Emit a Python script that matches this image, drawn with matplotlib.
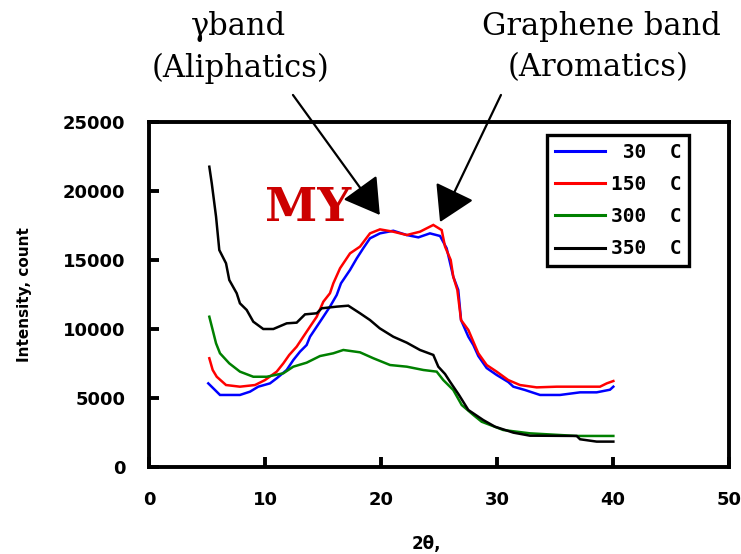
import matplotlib
matplotlib.use("Agg")
import matplotlib.pyplot as plt

# ---------------- data ----------------
x_30 = [5.11, 5.69, 6.12, 7.84, 8.71, 9.42, 10.43, 11.01, 11.87, 12.44, 13.02, 13.59, 13.88,
        14.46, 15.03, 15.60, 16.18, 16.55, 17.33, 17.91, 18.47, 19.05, 19.91, 21.06, 22.22,
        23.22, 24.22, 25.09, 25.66, 26.23, 26.66, 26.90, 27.53, 27.96, 28.39, 29.11, 29.97,
        30.97, 31.41, 32.41, 33.71, 35.43, 37.16, 38.59, 39.74, 40.03]
y_30 = [6060, 5580, 5220, 5220, 5460, 5820, 6060, 6430, 7030, 7750, 8360, 8840, 9440,
        10170, 10890, 11620, 12460, 13310, 14280, 15120, 15850, 16570, 16930, 17120, 16810,
        16640, 16930, 16740, 15850, 13790, 12830, 10650, 9440, 8840, 8040, 7170, 6670,
        6160, 5820, 5580, 5220, 5220, 5410, 5410, 5600, 5820]

x_150 = [5.20, 5.49, 5.84, 6.64, 7.84, 9.14, 10.0, 11.01, 11.58, 12.09, 12.73, 13.30, 13.88,
         14.46, 15.03, 15.60, 15.89, 16.47, 17.33, 18.19, 19.05, 19.91, 21.06, 22.22, 23.36,
         24.51, 25.23, 25.52, 26.01, 26.23, 26.58, 26.90, 27.53, 27.96, 28.39, 29.11, 29.97,
         30.97, 31.98, 33.42, 35.15, 38.88, 39.46, 40.03]
y_150 = [7880, 7030, 6540, 5940, 5820, 5940, 6300, 6910, 7510, 8120, 8720, 9440, 10170,
         10890, 11980, 12590, 13310, 14400, 15480, 15970, 16930, 17220, 17050, 16810, 17050,
         17540, 17170, 15970, 15000, 13790, 12830, 10650, 9930, 9080, 8240, 7390, 6910,
         6300, 5940, 5770, 5820, 5820, 6060, 6230]

x_300 = [5.20, 5.49, 5.78, 6.12, 6.92, 7.84, 8.99, 10.15, 11.58, 12.44, 13.59, 14.74, 15.89,
         16.75, 18.19, 19.34, 20.78, 22.22, 23.65, 24.80, 25.37, 26.23, 26.96, 27.96, 28.68,
         30.54, 32.84, 36.87, 40.03]
y_300 = [10890, 9930, 8960, 8240, 7510, 6910, 6540, 6540, 6790, 7270, 7560, 8040, 8240,
         8480, 8310, 7880, 7390, 7270, 7030, 6910, 6300, 5580, 4490, 3770, 3280,
         2680, 2440, 2250, 2250]

x_350 = [5.20, 5.41, 5.78, 6.06, 6.64, 6.92, 7.56, 7.84, 8.42, 8.99, 9.85, 10.72, 11.87,
         12.73, 13.45, 14.46, 14.89, 16.18, 17.18, 18.19, 19.05, 19.89, 21.06, 22.22, 23.36,
         24.51, 24.94, 25.52, 25.95, 26.70, 27.53, 28.82, 29.83, 31.41, 32.84, 36.87, 37.16,
         38.59, 40.03]
y_350 = [21760, 20560, 18140, 15720, 14760, 13550, 12590, 11860, 11380, 10530, 10000, 10000, 10410,
         10460, 11060, 11140, 11500, 11620, 11690, 11140, 10650, 10050, 9440, 9010, 8480,
         8120, 7270, 6740, 6180, 5250, 4130, 3400, 2920, 2490, 2270, 2250, 2010,
         1840, 1840]

series_labels = [" 30  C", "150  C", "300  C", "350  C"]
series_colors = ["#0000ff", "#ff0000", "#008000", "#000000"]

x_ticks = [0, 10, 20, 30, 40, 50]
y_ticks = [0, 5000, 10000, 15000, 20000, 25000]
y_ticklabels = ["0", "5000", "10000", "15000", "20000", "25000"]

# ---------------- figure ----------------
W, H = 741, 554
fig = plt.figure(figsize=(W / 100, H / 100), dpi=100)
ax = fig.add_axes([149 / W, 1 - 467 / H, (729 - 149) / W, (467 - 122) / H])

series = [(x_30, y_30), (x_150, y_150), (x_300, y_300), (x_350, y_350)]
for (xs, ys), lab, col in zip(series, series_labels, series_colors):
    ax.plot(xs, ys, color=col, lw=1.8, label=lab, solid_joinstyle="miter")

ax.set_xlim(0, 50)
ax.set_ylim(0, 25000)
ax.set_xticks(x_ticks)
ax.set_xticklabels([str(t) for t in x_ticks])
ax.set_yticks(y_ticks)
ax.set_yticklabels(y_ticklabels)

for s in ax.spines.values():
    s.set_linewidth(2.8)
    s.set_color("black")
ax.tick_params(direction="in", length=7, width=2.8, pad=17, labelsize=13)
for t in ax.get_xticklabels() + ax.get_yticklabels():
    t.set_fontweight("bold")
    t.set_family("DejaVu Sans")

ax.set_ylabel("Intensity, count", fontsize=11, fontweight="bold", family="DejaVu Sans")
ax.yaxis.set_label_coords((32 - 149) / 580, 0.5)
ax.set_xlabel("2θ,", fontsize=12, fontweight="bold", family="DejaVu Sans")
ax.xaxis.set_label_coords((426 - 149) / 580, -(535 - 467) / 345)

# legend
leg = ax.legend(loc="upper left", bbox_to_anchor=(547 / W, 1 - 135 / H),
                bbox_transform=fig.transFigure, borderaxespad=0,
                prop={"family": "DejaVu Sans Mono", "weight": "bold", "size": 14},
                handlelength=2.6, handletextpad=0.3, labelspacing=0.68,
                borderpad=0.4, fancybox=False, framealpha=1, edgecolor="black")
leg.get_frame().set_linewidth(2.4)
for line in leg.get_lines():
    line.set_linewidth(2.2)

# "MY" label
ax.text(10.0, 17830, "MY", color="#cc0000", fontsize=34, fontweight="bold",
        family="DejaVu Serif", va="baseline", ha="left", zorder=3)

# annotations
fig.text(238 / W, 1 - 26 / H, "γband", fontsize=22, family="DejaVu Serif",
         ha="center", va="center")
fig.text(241 / W, 1 - 68 / H, "(Aliphatics)", fontsize=22, family="DejaVu Serif",
         ha="center", va="center")
fig.text(601 / W, 1 - 26 / H, "Graphene band", fontsize=22, family="DejaVu Serif",
         ha="center", va="center")
fig.text(598 / W, 1 - 68 / H, "(Aromatics)", fontsize=22, family="DejaVu Serif",
         ha="center", va="center")

arrow = dict(arrowstyle="-|>,head_length=1.0,head_width=0.6", mutation_scale=22,
             lw=1.6, color="black", shrinkA=0, shrinkB=0)
ax.annotate("", xy=(19.9, 18260), xytext=(12.41, 26960), arrowprops=arrow,
            annotation_clip=False, zorder=4)
ax.annotate("", xy=(25.09, 17750), xytext=(30.34, 26960), arrowprops=arrow,
            annotation_clip=False, zorder=4)

fig.savefig("out.png", dpi=100)
